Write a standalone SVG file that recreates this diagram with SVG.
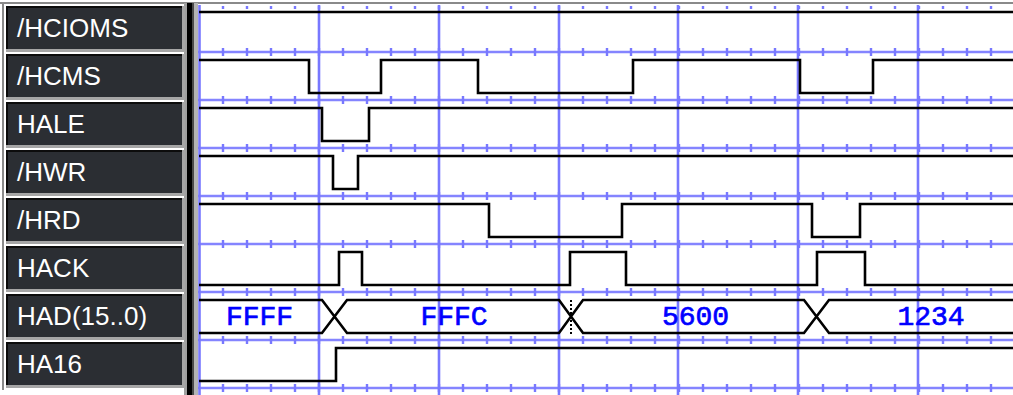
<svg xmlns="http://www.w3.org/2000/svg" width="1013" height="395" viewBox="0 0 1013 395">
<defs>
<style>
.box{fill:#2b2e33}
.boxb{fill:#a6a6a6}
.boxt{fill:none;stroke:#0c0c0c;stroke-width:2}
.lbl{font-family:"Liberation Sans",Arial,sans-serif;font-size:26px;fill:#ffffff}
.grid{stroke:#7878ff;stroke-width:2.6;fill:none}
.hgrid{stroke:#8484ff;stroke-width:2.4;fill:none}
.tick{stroke:#7878ff;stroke-width:8;stroke-dasharray:2.4 21.6;fill:none}
.dot{stroke:#7878ff;stroke-width:3;stroke-dasharray:2.4 21.6;fill:none}
.wave{stroke:#000;stroke-width:2.6;fill:none;stroke-linejoin:miter}
.val{font-family:"Liberation Mono","DejaVu Sans Mono",monospace;font-size:28px;fill:#0000ff;stroke:#0000ff;stroke-width:0.7;text-anchor:middle}
</style>
</defs>
<rect x="0" y="0" width="1013" height="395" fill="#ffffff"/>
<g id="frame">
<line x1="0" y1="3" x2="1013" y2="3" stroke="#8a8a8a" stroke-width="2"/>
<line x1="3" y1="3" x2="3" y2="390" stroke="#8a8a8a" stroke-width="2"/>
<rect x="184" y="3" width="3" height="392" fill="#a0a0a0"/>
<rect x="187" y="3" width="5" height="392" fill="#000000"/>
<rect x="192" y="3" width="2" height="392" fill="#4a4a4a"/>
<rect x="194" y="3" width="4" height="392" fill="#b4b4b4"/>
</g>
<g id="grid">
<path class="dot" d="M221.8,7.5 H1013"/>
<path class="hgrid" d="M198,52 H1013 M198,100 H1013 M198,148 H1013 M198,196 H1013 M198,244 H1013 M198,292 H1013 M198,340 H1013 M198,388 H1013"/>
<path class="tick" d="M221.8,52 H1013 M221.8,100 H1013 M221.8,148 H1013 M221.8,196 H1013 M221.8,244 H1013 M221.8,292 H1013 M221.8,340 H1013 M221.8,388 H1013"/>
<path class="grid" d="M199.5,5 V395 M319,5 V395 M439,5 V395 M559,5 V395 M678,5 V395 M798,5 V395 M918,5 V395"/>
</g>
<g id="sig-hcioms">
<rect class="boxb" x="6" y="6" width="179" height="46"/>
<rect class="box" x="6" y="6" width="176" height="43"/>
<path class="boxt" d="M7,49 V7 H182"/>
<text class="lbl" x="17" y="37">/HCIOMS</text>
<path class="wave" d="M199,12 H1013"/>
</g>
<g id="sig-hcms">
<rect class="boxb" x="6" y="54" width="179" height="46"/>
<rect class="box" x="6" y="54" width="176" height="43"/>
<path class="boxt" d="M7,97 V55 H182"/>
<text class="lbl" x="17" y="85">/HCMS</text>
<path class="wave" d="M199,60 H309 V93 H381 V60 H478 V93 H633 V60 H800 V93 H873 V60 H1013"/>
</g>
<g id="sig-hale">
<rect class="boxb" x="6" y="102" width="179" height="46"/>
<rect class="box" x="6" y="102" width="176" height="43"/>
<path class="boxt" d="M7,145 V103 H182"/>
<text class="lbl" x="17" y="133">HALE</text>
<path class="wave" d="M199,108 H322 V141 H369 V108 H1013"/>
</g>
<g id="sig-hwr">
<rect class="boxb" x="6" y="150" width="179" height="46"/>
<rect class="box" x="6" y="150" width="176" height="43"/>
<path class="boxt" d="M7,193 V151 H182"/>
<text class="lbl" x="17" y="181">/HWR</text>
<path class="wave" d="M199,156 H333 V189 H358 V156 H1013"/>
</g>
<g id="sig-hrd">
<rect class="boxb" x="6" y="198" width="179" height="46"/>
<rect class="box" x="6" y="198" width="176" height="43"/>
<path class="boxt" d="M7,241 V199 H182"/>
<text class="lbl" x="17" y="229">/HRD</text>
<path class="wave" d="M199,204 H489 V237 H622 V204 H812 V237 H860 V204 H1013"/>
</g>
<g id="sig-hack">
<rect class="boxb" x="6" y="246" width="179" height="46"/>
<rect class="box" x="6" y="246" width="176" height="43"/>
<path class="boxt" d="M7,289 V247 H182"/>
<text class="lbl" x="17" y="277">HACK</text>
<path class="wave" d="M199,285 H339 V252 H362 V285 H570 V252 H626 V285 H817 V252 H865 V285 H1013"/>
</g>
<g id="sig-had">
<rect class="boxb" x="6" y="294" width="179" height="46"/>
<rect class="box" x="6" y="294" width="176" height="43"/>
<path class="boxt" d="M7,337 V295 H182"/>
<text class="lbl" x="17" y="325">HAD(15..0)</text>
<path class="wave" d="M199,300 H322 L347,333 H559 L583,300 H804 L829,333 H1013 M199,333 H322 L347,300 H559 L583,333 H804 L829,300 H1013"/>
<line x1="571" y1="300" x2="571" y2="334" stroke="#000" stroke-width="2" stroke-dasharray="2 2"/>
<text class="val" x="259.5" y="325">FFFF</text>
<text class="val" x="454" y="325">FFFC</text>
<text class="val" x="695.5" y="325">5600</text>
<text class="val" x="931" y="325">1234</text>
</g>
<g id="sig-ha16">
<rect class="boxb" x="6" y="342" width="179" height="46"/>
<rect class="box" x="6" y="342" width="176" height="43"/>
<path class="boxt" d="M7,385 V343 H182"/>
<text class="lbl" x="17" y="373">HA16</text>
<path class="wave" d="M199,381 H336 V348 H1013"/>
</g>
<g id="connectors"/>
</svg>
